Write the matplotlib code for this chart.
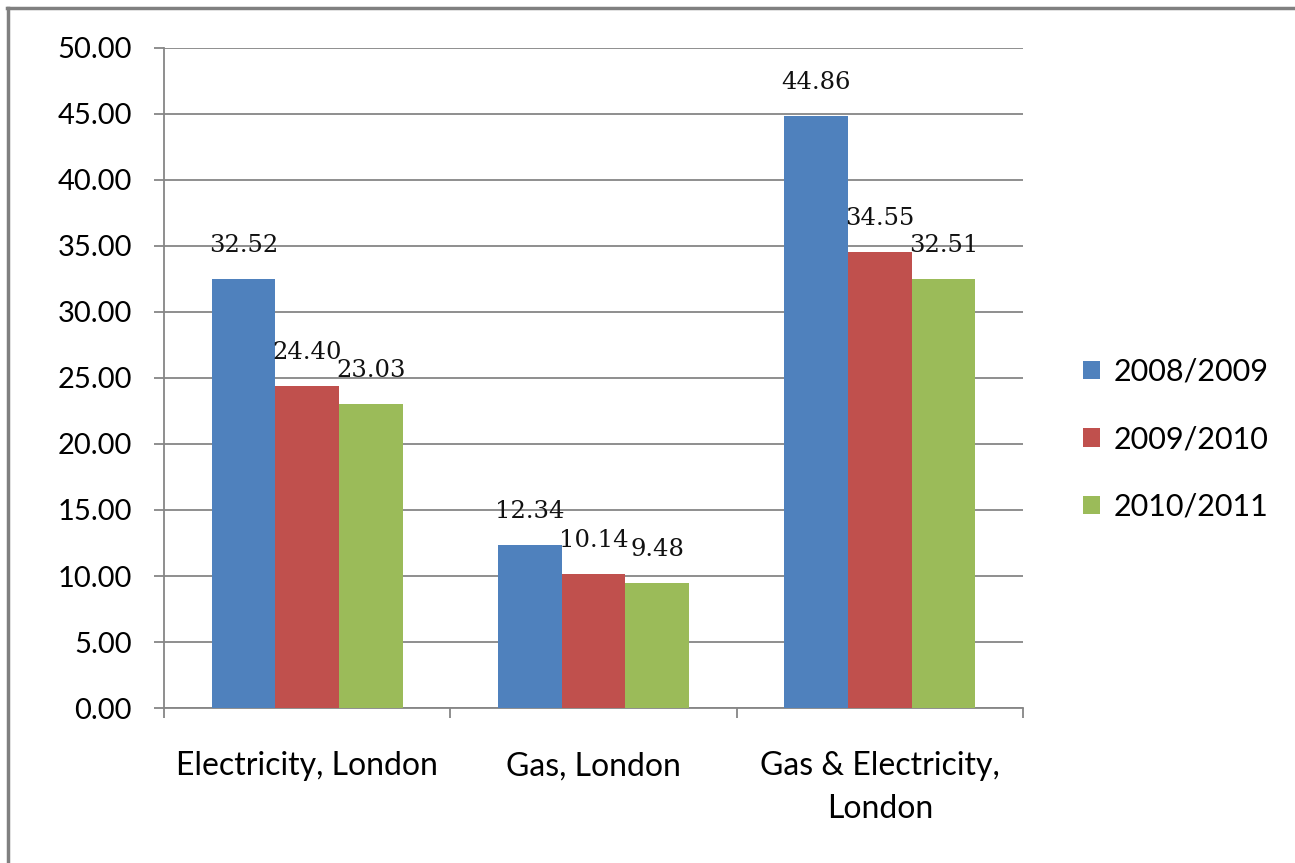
import matplotlib
matplotlib.use("Agg")
import matplotlib.pyplot as plt
from matplotlib.lines import Line2D
from matplotlib.ticker import FormatStrFormatter, FixedLocator
import numpy as np

categories = ["Electricity, London", "Gas, London", "Gas & Electricity,\nLondon"]
series_names = ["2008/2009", "2009/2010", "2010/2011"]
values_0809 = [32.52, 12.34, 44.86]
values_0910 = [24.40, 10.14, 34.55]
values_1011 = [23.03, 9.48, 32.51]
colors = ["#4F81BD", "#C0504D", "#9BBB59"]

series = [values_0809, values_0910, values_1011]

plt.rcParams["font.family"] = ["Lato", "DejaVu Sans"]

fig = plt.figure(figsize=(12.95, 8.63), dpi=100)
ax = fig.add_axes([0.1266, 0.1796, 0.790 - 0.1266, 0.9444 - 0.1796])

n = len(series)
gap = 1.5
bar_w = 1.0 / (n + gap)
x = np.arange(len(categories))
grid_c = "#868686"

for i, (vals, name, c) in enumerate(zip(series, series_names, colors)):
    offs = (i - (n - 1) / 2) * bar_w
    bars = ax.bar(x + offs, vals, width=bar_w, color=c, label=name, zorder=3)
    for b, v in zip(bars, vals):
        ax.annotate(f"{v:.2f}", (b.get_x() + b.get_width() / 2, v),
                    xytext=(0, 16), textcoords="offset points",
                    ha="center", va="bottom", fontsize=17.5,
                    family="DejaVu Serif", color="#111111", zorder=4)

ax.set_xlim(-0.5, len(categories) - 0.5)
ax.set_ylim(0, 50)
ax.yaxis.set_major_locator(FixedLocator(np.arange(0, 50.1, 5)))
ax.yaxis.set_major_formatter(FormatStrFormatter("%.2f"))
ax.grid(axis="y", color=grid_c, linewidth=1.3, zorder=0)
ax.set_axisbelow(True)

ax.set_xticks(x)
ax.set_xticklabels(categories, fontsize=23, linespacing=1.55)
ax.set_xticks(np.arange(-0.5, len(categories)), minor=True)
ax.tick_params(axis="x", which="major", length=0, pad=31)
ax.tick_params(axis="x", which="minor", length=7, width=1.3, color=grid_c, direction="out")
ax.tick_params(axis="y", length=7, width=1.3, color=grid_c, pad=16, labelsize=21)

for s in ["top", "right"]:
    ax.spines[s].set_visible(False)
for s in ["left", "bottom"]:
    ax.spines[s].set_color(grid_c)
    ax.spines[s].set_linewidth(1.3)

leg = fig.legend(loc="center left", bbox_to_anchor=(0.815, 0.491), frameon=False,
                 fontsize=22, handlelength=0.55, handleheight=0.55,
                 handletextpad=0.45, labelspacing=1.3)

# chart frame edges
fig.add_artist(Line2D([0.0065, 0.0065], [0, 0.9905], transform=fig.transFigure,
                      color="#808080", linewidth=2.5))
fig.add_artist(Line2D([0.0055, 1.0], [0.9905, 0.9905], transform=fig.transFigure,
                      color="#808080", linewidth=2.5))

fig.savefig("out.png", dpi=100, facecolor="white")
